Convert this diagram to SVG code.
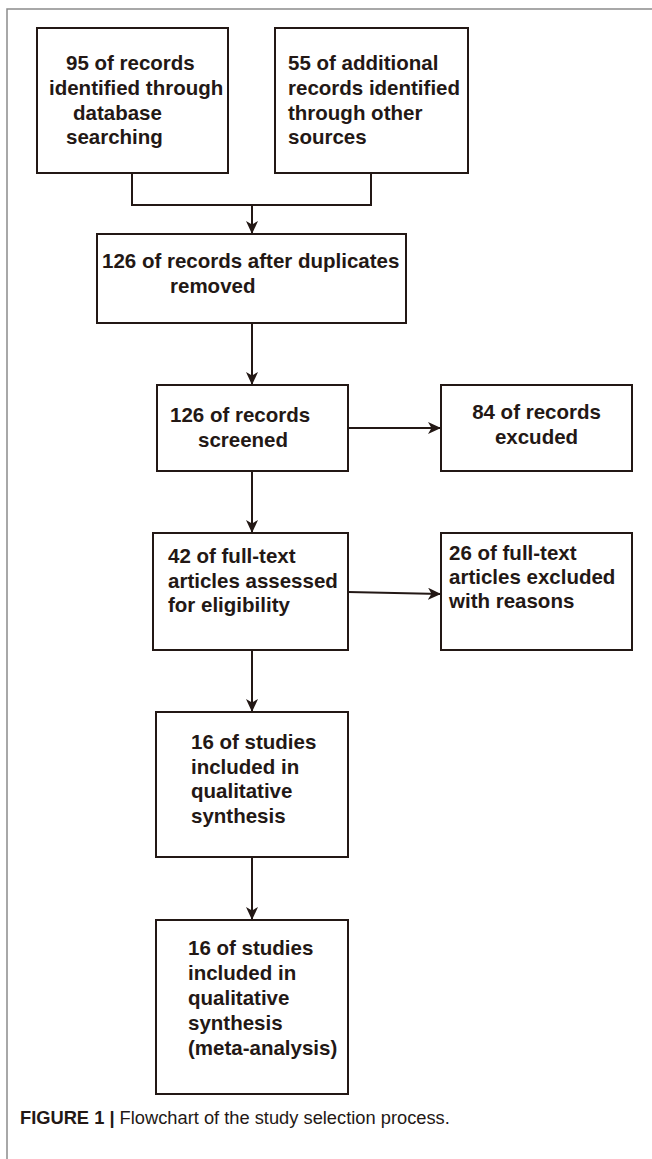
<svg xmlns="http://www.w3.org/2000/svg" width="652" height="1159" viewBox="0 0 652 1159">
<style>
.frame{fill:none;stroke:#8c8c8c;stroke-width:1.5}
.box{fill:#fff;stroke:#231815;stroke-width:2}
.t{font-family:"Liberation Sans",Arial,sans-serif;font-weight:bold;font-size:20.5px;fill:#231815}
.c{fill:none;stroke:#231815;stroke-width:2}
.cap{font-family:"Liberation Sans",Arial,sans-serif;font-size:18.3px;fill:#231815}
</style>
<defs>
<marker id="ah" markerUnits="userSpaceOnUse" markerWidth="14" markerHeight="12" refX="13" refY="6" orient="auto">
<path d="M0,0 L13,6 L0,12 L3.5,6 Z" fill="#231815"/>
</marker>
</defs>
<rect width="652" height="1159" fill="#fff"/>
<path class="frame" d="M7,1159 V9 H652"/>
<g id="connectors">
<path class="c" d="M132,173 V205 H371 V173"/>
<line class="c" x1="252" y1="205" x2="252" y2="234" marker-end="url(#ah)"/>
<line class="c" x1="252" y1="323" x2="252" y2="385" marker-end="url(#ah)"/>
<line class="c" x1="348" y1="428" x2="441" y2="428" marker-end="url(#ah)"/>
<line class="c" x1="252" y1="471" x2="252" y2="533" marker-end="url(#ah)"/>
<line class="c" x1="348" y1="592" x2="441" y2="594" marker-end="url(#ah)"/>
<line class="c" x1="252" y1="650" x2="252" y2="712" marker-end="url(#ah)"/>
<line class="c" x1="252" y1="857" x2="252" y2="920" marker-end="url(#ah)"/>
</g>
<g id="n1">
<rect class="box" x="37" y="28" width="191" height="145"/>
<text class="t"><tspan x="66" y="70">95 of records</tspan><tspan x="49" y="95">identified through</tspan><tspan x="73" y="120">database</tspan><tspan x="66" y="144">searching</tspan></text>
</g>
<g id="n2">
<rect class="box" x="275" y="28" width="193" height="145"/>
<text class="t"><tspan x="288" y="70">55 of additional</tspan><tspan x="288" y="95">records identified</tspan><tspan x="288" y="120">through other</tspan><tspan x="288" y="144">sources</tspan></text>
</g>
<g id="n3">
<rect class="box" x="97" y="234" width="309" height="89"/>
<text class="t"><tspan x="102" y="268">126 of records after duplicates</tspan><tspan x="170" y="293">removed</tspan></text>
</g>
<g id="n4">
<rect class="box" x="157" y="385" width="191" height="86"/>
<text class="t"><tspan x="170" y="422">126 of records</tspan><tspan x="198" y="447">screened</tspan></text>
</g>
<g id="n5">
<rect class="box" x="441" y="385" width="191" height="86"/>
<text class="t" text-anchor="middle"><tspan x="536.5" y="419">84 of records</tspan><tspan x="536.5" y="444">excuded</tspan></text>
</g>
<g id="n6">
<rect class="box" x="153" y="533" width="195" height="117"/>
<text class="t"><tspan x="168" y="563">42 of full-text</tspan><tspan x="168" y="588">articles assessed</tspan><tspan x="168" y="612">for eligibility</tspan></text>
</g>
<g id="n7">
<rect class="box" x="441" y="533" width="191" height="117"/>
<text class="t"><tspan x="449" y="560">26 of full-text</tspan><tspan x="449" y="584">articles excluded</tspan><tspan x="449" y="608">with reasons</tspan></text>
</g>
<g id="n8">
<rect class="box" x="156" y="712" width="192" height="145"/>
<text class="t"><tspan x="191" y="749">16 of studies</tspan><tspan x="191" y="774">included in</tspan><tspan x="191" y="798">qualitative</tspan><tspan x="191" y="823">synthesis</tspan></text>
</g>
<g id="n9">
<rect class="box" x="156" y="920" width="192" height="174"/>
<text class="t"><tspan x="188" y="955">16 of studies</tspan><tspan x="188" y="980">included in</tspan><tspan x="188" y="1005">qualitative</tspan><tspan x="188" y="1030">synthesis</tspan><tspan x="188" y="1055">(meta-analysis)</tspan></text>
</g>
<text class="cap" x="20" y="1124"><tspan font-weight="bold">FIGURE 1 | </tspan>Flowchart of the study selection process.</text>
</svg>
